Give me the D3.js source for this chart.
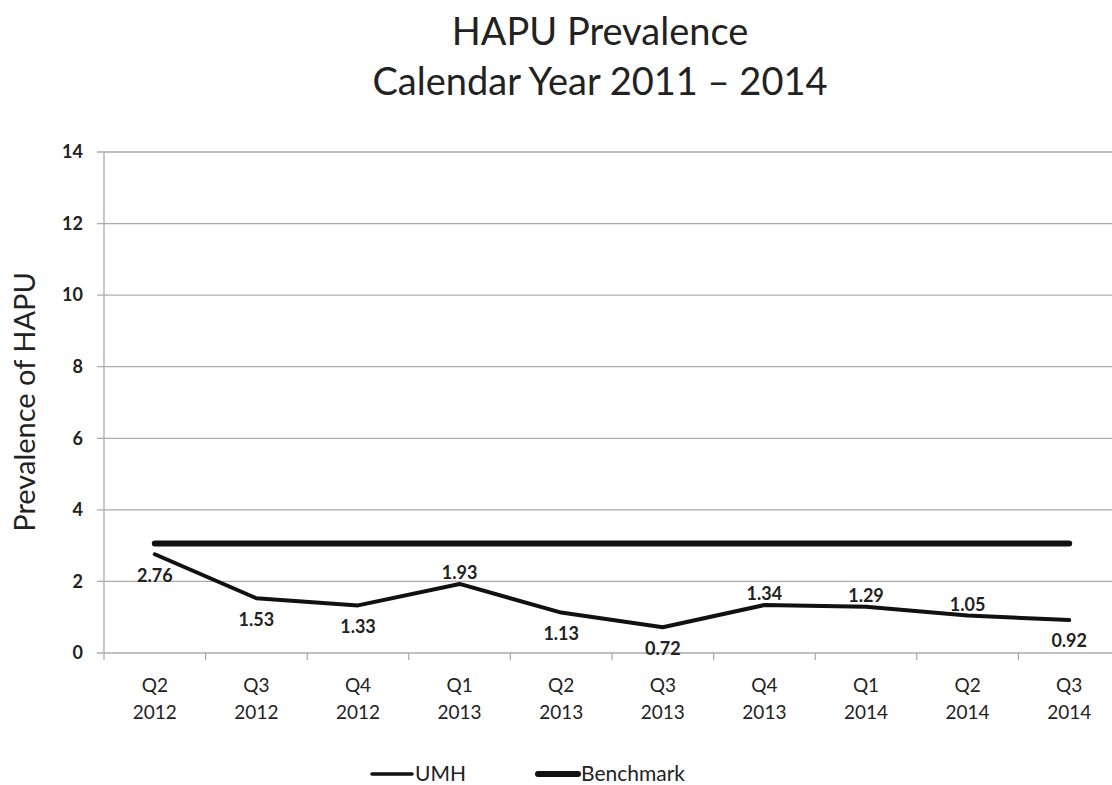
<!DOCTYPE html>
<html>
<head>
<meta charset="utf-8">
<script src="https://cdn.jsdelivr.net/npm/d3@7"></script>
<style>
  body { margin: 0; background: #fff; }
  svg text { font-family: Lato, "Open Sans", sans-serif; fill: #222; }
</style>
</head>
<body>
<svg id="chart" width="1112" height="785"></svg>
<script>
// quarters shown on the x axis (two lines each)
var quarters = ["Q2", "Q3", "Q4", "Q1", "Q2", "Q3", "Q4", "Q1", "Q2", "Q3"];
var years = ["2012", "2012", "2012", "2013", "2013", "2013", "2013", "2014", "2014", "2014"];
var umh = [2.76, 1.53, 1.33, 1.93, 1.13, 0.72, 1.34, 1.29, 1.05, 0.92];
var benchmark = [3.06, 3.06, 3.06, 3.06, 3.06, 3.06, 3.06, 3.06, 3.06, 3.06];
// where excel put each data label
var labelPos = ["below", "below", "below", "above", "below", "below", "above", "above", "above", "below"];
var yTicks = [0, 2, 4, 6, 8, 10, 12, 14];

var svg = d3.select("#chart");
var plotLeft = 104, plotRight = 1120, plotTop = 152, plotBottom = 653;

var keys = quarters.map(function(q, i){ return i; });

var x = d3.scaleBand()
  .domain(keys)
  .range([plotLeft, plotRight]);

var y = d3.scaleLinear()
  .domain([0, 14])
  .range([plotBottom, plotTop]);

//gridlines
svg.append("g")
  .selectAll("line")
  .data(yTicks)
  .enter().append("line")
  .attr("x1", plotLeft - 7).attr("x2", plotRight)
  .attr("y1", function(d){ return y(d); })
  .attr("y2", function(d){ return y(d); })
  .attr("stroke", "#ababab")
  .attr("stroke-width", 1.3);

// y axis line
svg.append("line")
  .attr("x1", plotLeft).attr("x2", plotLeft)
  .attr("y1", plotTop).attr("y2", plotBottom + 7)
  .attr("stroke", "#ababab")
  .attr("stroke-width", 1.3);

// category ticks between bands
svg.append("g")
  .selectAll("line")
  .data(keys.slice(1))
  .enter().append("line")
  .attr("x1", function(d){ return x(d); })
  .attr("x2", function(d){ return x(d); })
  .attr("y1", plotBottom).attr("y2", plotBottom + 7)
  .attr("stroke", "#ababab")
  .attr("stroke-width", 1.3);

// y tick labels
svg.append("g")
  .selectAll("text")
  .data(yTicks)
  .enter().append("text")
  .attr("x", plotLeft - 21)
  .attr("y", function(d){ return y(d); })
  .attr("dy", "0.35em")
  .attr("text-anchor", "end")
  .attr("font-size", 18)
  .attr("font-weight", "bold")
  .text(function(d){ return d; });

// x labels
var xl = svg.append("g")
  .selectAll("text")
  .data(keys)
  .enter().append("text")
  .attr("text-anchor", "middle")
  .attr("font-size", 19);
xl.append("tspan")
  .attr("x", function(d){ return x(d) + x.bandwidth() / 2; })
  .attr("y", 692)
  .text(function(d){ return quarters[d]; });
xl.append("tspan")
  .attr("x", function(d){ return x(d) + x.bandwidth() / 2; })
  .attr("y", 719)
  .text(function(d){ return years[d]; });

var line = d3.line()
  .x(function(d, i){ return x(i) + x.bandwidth() / 2; })
  .y(function(d){ return y(d); });

svg.append("path")
  .datum(benchmark)
  .attr("d", line)
  .attr("fill", "none")
  .attr("stroke", "#111")
  .attr("stroke-width", 6)
  .attr("stroke-linecap", "round");

svg.append("path")
  .datum(umh)
  .attr("d", line)
  .attr("fill", "none")
  .attr("stroke", "#111")
  .attr("stroke-width", 4)
  .attr("stroke-linejoin", "round")
  .attr("stroke-linecap", "round");

// data labels
svg.append("g")
  .selectAll("text")
  .data(umh)
  .enter().append("text")
  .attr("x", function(d, i){ return x(i) + x.bandwidth() / 2; })
  .attr("y", function(d, i){ return labelPos[i] == "above" ? y(d) - 11 : y(d) + 21; })
  .attr("dy", "0.35em")
  .attr("text-anchor", "middle")
  .attr("font-size", 18)
  .attr("font-weight", "bold")
  .text(function(d){ return d.toFixed(2); });

// title
svg.append("text")
  .attr("x", 600).attr("y", 45)
  .attr("text-anchor", "middle")
  .attr("font-size", 38)
  .text("HAPU Prevalence");
svg.append("text")
  .attr("x", 600).attr("y", 95)
  .attr("text-anchor", "middle")
  .attr("font-size", 38)
  .text("Calendar Year 2011 \u2013 2014");

// y axis title
svg.append("text")
  .attr("transform", "translate(35,402) rotate(-90)")
  .attr("text-anchor", "middle")
  .attr("font-size", 29)
  .text("Prevalence of HAPU");

// legend
var legend = [["UMH", 3.5, 372], ["Benchmark", 6, 538]];
var lg = svg.append("g")
  .selectAll("g")
  .data(legend)
  .enter().append("g");
lg.append("line")
  .attr("x1", function(d){ return d[2]; })
  .attr("x2", function(d){ return d[2] + 40; })
  .attr("y1", 774).attr("y2", 774)
  .attr("stroke", "#111")
  .attr("stroke-width", function(d){ return d[1]; })
  .attr("stroke-linecap", "round");
lg.append("text")
  .attr("x", function(d){ return d[2] + 43; })
  .attr("y", 781)
  .attr("font-size", 21)
  .text(function(d){ return d[0]; });
</script>
</body>
</html>
